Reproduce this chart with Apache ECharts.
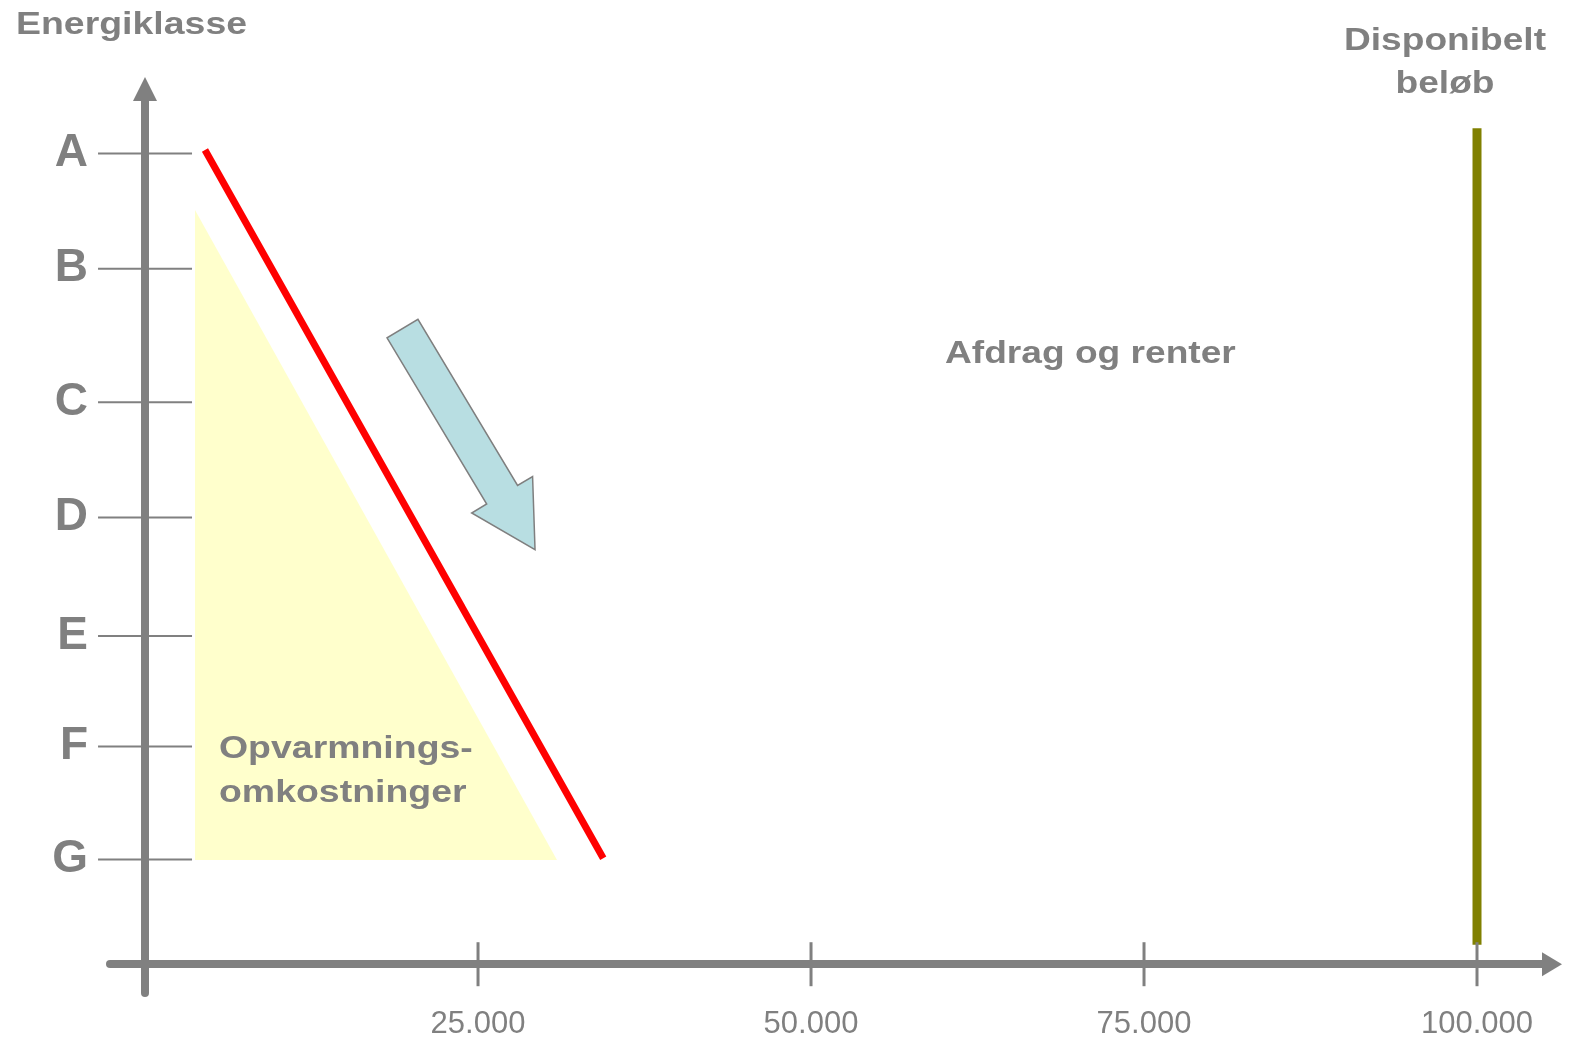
<!DOCTYPE html>
<html>
<head>
<meta charset="utf-8">
<title>Energiklasse og disponibelt beløb</title>
<script src="https://cdn.jsdelivr.net/npm/echarts@6/dist/echarts.min.js"></script>
<style>
  html, body { margin: 0; padding: 0; background: #ffffff; }
  #chart { width: 1571px; height: 1040px; }
</style>
</head>
<body>
<div id="chart"></div>
<script>
// Energy classes and where each one sits on the vertical scale
const classLetters = ['A', 'B', 'C', 'D', 'E', 'F', 'G'];
const classLevels = [7.04, 6.04, 4.88, 3.88, 2.85, 1.89, 0.91];

// Amount axis (kr.)
const amountTicks = [25000, 50000, 75000, 100000];

// Red line: total cost from class A down to class G
const costLine = [[4500, 7.07], [34400, 0.92]];

// Heating costs area (yellow triangle)
const heatingArea = [[3750, 6.55], [3750, 0.905], [30930, 0.905]];

// Arrow showing the shift: tail point, tip point
const shiftArrow = [[19330, 5.52], [29280, 3.60]];

// Available amount (olive line)
const availableAmount = 100000;
const availableSpan = [0.17, 7.26];

const GREY = '#808080';
const FONT = '"Liberation Sans", Arial, Helvetica, sans-serif';

function fmtAmount(v) {
  return String(v).replace(/\B(?=(\d{3})+(?!\d))/g, '.');
}

const chart = echarts.init(document.getElementById('chart'), null, { renderer: 'canvas' });

const option = {
  backgroundColor: '#ffffff',
  animation: false,
  grid: {
    left: 110, right: 19, top: 89, bottom: 47,
    containLabel: false,
    outerBoundsMode: 'none'
  },
  xAxis: {
    type: 'value',
    min: -2630,
    max: 105630,
    axisLine: {
      show: true,
      onZero: true,
      symbol: ['none', 'triangle'],
      symbolSize: [24, 20],
      lineStyle: { color: GREY, width: 8 }
    },
    axisTick: { show: false },
    splitLine: { show: false },
    axisLabel: {
      show: true,
      customValues: amountTicks,
      formatter: fmtAmount,
      color: GREY,
      fontFamily: FONT,
      fontSize: 31,
      margin: 16
    }
  },
  yAxis: {
    type: 'value',
    min: -0.25,
    max: 7.6,
    axisLine: {
      show: true,
      onZero: true,
      symbol: ['none', 'triangle'],
      symbolSize: [24, 24],
      lineStyle: { color: GREY, width: 8 }
    },
    axisTick: { show: false },
    splitLine: { show: false },
    axisLabel: { show: false }
  },
  series: [
    {
      // yellow heating-cost triangle
      type: 'custom',
      z: 1,
      silent: true,
      data: [0],
      renderItem: function (params, api) {
        const pts = heatingArea.map(p => api.coord(p));
        return {
          type: 'polygon',
          shape: { points: pts },
          style: { fill: '#ffffcc', stroke: 'none' }
        };
      }
    },
    {
      // red cost line
      type: 'line',
      z: 3,
      silent: true,
      data: costLine,
      symbol: 'none',
      lineStyle: { color: '#ff0000', width: 7, cap: 'butt' }
    },
    {
      // olive available-amount line
      type: 'line',
      z: 3,
      silent: true,
      data: availableSpan.map(v => [availableAmount, v]),
      symbol: 'none',
      lineStyle: { color: '#808000', width: 9, cap: 'butt' }
    },
    {
      // block arrow
      type: 'custom',
      z: 4,
      silent: true,
      data: [0],
      renderItem: function (params, api) {
        const t = api.coord(shiftArrow[0]);
        const p = api.coord(shiftArrow[1]);
        const dx = p[0] - t[0], dy = p[1] - t[1];
        const len = Math.sqrt(dx * dx + dy * dy);
        const ux = dx / len, uy = dy / len;
        const nx = -uy, ny = ux;
        const headLen = 64, shaftHalf = 18, headHalf = 35.5;
        const b = [p[0] - ux * headLen, p[1] - uy * headLen];
        const pts = [
          [t[0] + nx * shaftHalf, t[1] + ny * shaftHalf],
          [b[0] + nx * shaftHalf, b[1] + ny * shaftHalf],
          [b[0] + nx * headHalf, b[1] + ny * headHalf],
          p,
          [b[0] - nx * headHalf, b[1] - ny * headHalf],
          [b[0] - nx * shaftHalf, b[1] - ny * shaftHalf],
          [t[0] - nx * shaftHalf, t[1] - ny * shaftHalf]
        ];
        return {
          type: 'polygon',
          shape: { points: pts },
          style: { fill: '#b8dee2', stroke: '#7f7f7f', lineWidth: 1.5, lineJoin: 'miter' }
        };
      }
    },
    {
      // energy class ticks and letters on the vertical axis
      type: 'custom',
      z: 5,
      silent: true,
      data: classLevels.map((lv, i) => [0, lv, i]),
      renderItem: function (params, api) {
        const c = api.coord([0, api.value(1)]);
        const letter = classLetters[api.value(2)];
        return {
          type: 'group',
          children: [
            {
              type: 'line',
              shape: { x1: c[0] - 47, y1: c[1], x2: c[0] + 47, y2: c[1] },
              style: { stroke: GREY, lineWidth: 2 }
            },
            {
              type: 'text',
              x: c[0] - 57,
              y: c[1],
              style: {
                text: letter,
                fill: GREY,
                font: 'bold 46px ' + FONT,
                textAlign: 'right',
                align: 'right',
                textVerticalAlign: 'middle',
                verticalAlign: 'middle'
              }
            }
          ]
        };
      }
    },
    {
      // amount tick marks crossing the horizontal axis
      type: 'custom',
      z: 5,
      silent: true,
      data: amountTicks.map(v => [v, 0]),
      renderItem: function (params, api) {
        const c = api.coord([api.value(0), 0]);
        return {
          type: 'line',
          shape: { x1: c[0], y1: c[1] - 22, x2: c[0], y2: c[1] + 22 },
          style: { stroke: GREY, lineWidth: 3 }
        };
      }
    }
  ],
  graphic: {
    elements: [
      {
        type: 'text', x: 16, y: 25, scaleX: 1.17, silent: true, z: 20,
        style: {
          text: 'Energiklasse', fill: GREY, font: 'bold 32px ' + FONT,
          textAlign: 'left', align: 'left', textVerticalAlign: 'middle', verticalAlign: 'middle'
        }
      },
      {
        type: 'text', x: 1445, y: 63, scaleX: 1.16, silent: true, z: 20,
        style: {
          text: 'Disponibelt\nbeløb', fill: GREY, font: 'bold 32px ' + FONT, lineHeight: 43,
          textAlign: 'center', align: 'center', textVerticalAlign: 'middle', verticalAlign: 'middle'
        }
      },
      {
        type: 'text', x: 945, y: 354, scaleX: 1.16, silent: true, z: 20,
        style: {
          text: 'Afdrag og renter', fill: GREY, font: 'bold 32px ' + FONT,
          textAlign: 'left', align: 'left', textVerticalAlign: 'middle', verticalAlign: 'middle'
        }
      },
      {
        type: 'text', x: 219, y: 771, scaleX: 1.17, silent: true, z: 20,
        style: {
          text: 'Opvarmnings-\nomkostninger', fill: GREY, font: 'bold 32px ' + FONT, lineHeight: 44,
          textAlign: 'left', align: 'left', textVerticalAlign: 'middle', verticalAlign: 'middle'
        }
      }
    ]
  }
};

chart.setOption(option);
</script>
</body>
</html>
